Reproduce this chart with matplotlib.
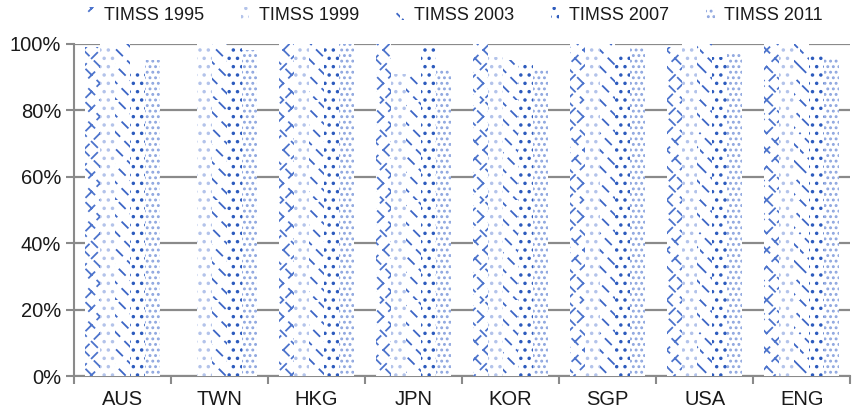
import numpy as np
import matplotlib
matplotlib.use("Agg")
import matplotlib.pyplot as plt
import matplotlib.hatch as mhatch
from matplotlib.path import Path
from matplotlib.ticker import FixedLocator, PercentFormatter

plt.rcParams['font.family'] = ['Liberation Sans', 'DejaVu Sans']
plt.rcParams['hatch.linewidth'] = 1.3

countries = ["AUS", "TWN", "HKG", "JPN", "KOR", "SGP", "USA", "ENG"]
series = ["TIMSS 1995", "TIMSS 1999", "TIMSS 2003", "TIMSS 2007", "TIMSS 2011"]

# percent values (TWN took no part in 1995)
timss_1995 = [99, 0, 100, 100, 100, 100, 99, 100]
timss_1999 = [100, 100, 100, 91, 96, 100, 100, 100]
timss_2003 = [100, 100, 100, 91, 95, 100, 100, 100]
timss_2007 = [92, 99, 100, 99, 95, 97, 96, 97]
timss_2011 = [95, 98, 100, 92, 92, 99, 97, 96]

values = [timss_1995, timss_1999, timss_2003, timss_2007, timss_2011]
hatches = ["xx", "..", "\\\\", "..", "..."]
hcolors = ["#4d74cc", "#b3c3ea", "#3d66c6", "#2d5bbd", "#8ea6df"]

# the scanned chart uses broken, dashed hatching, so swap the diagonal
# hatch lines of matplotlib for short dashes
N_DASH = 9
DASH_FRAC = 0.5


class DashedDiag(mhatch.HatchPatternBase):
    sign = 1
    chars = "/"

    def __init__(self, hatch, density):
        n = sum(hatch.count(c) for c in self.chars + "xX")
        self.num_lines = int(n * density)
        self.num_vertices = (self.num_lines + 1) * N_DASH * 2 if self.num_lines else 0

    def set_vertices_and_codes(self, vertices, codes):
        steps = np.linspace(-0.5, 0.5, self.num_lines + 1)
        t0 = np.arange(N_DASH) / N_DASH
        t1 = t0 + DASH_FRAC / N_DASH
        base_x = steps[:, None]
        if self.sign > 0:
            base_y = -steps[:, None]
            y0, y1 = base_y + t0, base_y + t1
        else:
            base_y = 1 + steps[:, None]
            y0, y1 = base_y - t0, base_y - t1
        vertices[0::2, 0] = (base_x + t0).ravel()
        vertices[0::2, 1] = y0.ravel()
        vertices[1::2, 0] = (base_x + t1).ravel()
        vertices[1::2, 1] = y1.ravel()
        codes[0::2] = Path.MOVETO
        codes[1::2] = Path.LINETO


class DashedNE(DashedDiag):
    sign = 1
    chars = "/"


class DashedSE(DashedDiag):
    sign = -1
    chars = "\\"


mhatch._hatch_types = [DashedNE if t is mhatch.NorthEastHatch else
                       DashedSE if t is mhatch.SouthEastHatch else t
                       for t in mhatch._hatch_types]

fig = plt.figure(figsize=(8.59, 4.17), dpi=100)
ax = fig.add_axes([0.086, 0.098, 0.904, 0.797])

x = np.arange(len(countries))
w = 0.155
for i, (name, vals) in enumerate(zip(series, values)):
    ax.bar(x + (i - 2) * w, vals, w, facecolor="white", edgecolor=hcolors[i],
           hatch=hatches[i], linewidth=0, label=name, zorder=3)

ax.set_xlim(-0.5, len(countries) - 0.5)
ax.set_ylim(0, 100)
ax.set_yticks(np.arange(0, 101, 20))
ax.yaxis.set_major_formatter(PercentFormatter(decimals=0))
ax.grid(axis="y", color="#8a8a8a", linewidth=1.6, zorder=0)

# group boundaries carry the tick marks, names sit in between
ax.xaxis.set_major_locator(FixedLocator(np.arange(-0.5, len(countries), 1.0)))
ax.xaxis.set_major_formatter(plt.NullFormatter())
ax.xaxis.set_minor_locator(FixedLocator(x))
ax.set_xticklabels(countries, minor=True)
ax.tick_params(axis="x", which="major", length=6, width=1.5, color="#8a8a8a", direction="out")
ax.tick_params(axis="x", which="minor", length=0, pad=10, labelsize=14.5, labelcolor="#1a1a1a")
ax.tick_params(axis="y", length=6, width=1.5, color="#8a8a8a", labelsize=14.5, labelcolor="#1a1a1a", pad=3)

for s in ["top", "right"]:
    ax.spines[s].set_visible(False)
for s in ["left", "bottom"]:
    ax.spines[s].set_color("#8a8a8a")
    ax.spines[s].set_linewidth(1.5)

ax.legend(loc="center", bbox_to_anchor=(0.49, 1.085), ncol=5, frameon=False,
          fontsize=13, handlelength=0.45, handleheight=0.7, handletextpad=0.55,
          columnspacing=2.05, labelcolor="#1a1a1a", borderaxespad=0)

fig.savefig("out.png", dpi=100)
